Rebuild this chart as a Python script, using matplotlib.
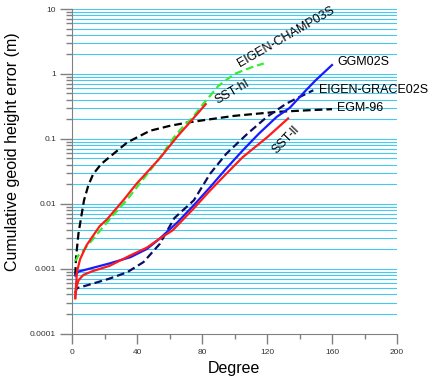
import matplotlib
matplotlib.use('Agg')
import matplotlib.pyplot as plt
import numpy as np

plt.rcParams['font.family'] = ['Liberation Sans', 'DejaVu Sans']

# EGM-96 (black dashed)
egm_deg = [2, 2.5, 4, 5.3, 7.4, 10, 13, 18, 23, 34, 48, 60, 71, 85, 100, 126, 145, 160]
egm_val = [0.0008, 0.0015, 0.0035, 0.0055, 0.0113, 0.019, 0.0285, 0.041, 0.052, 0.088,
           0.133, 0.158, 0.178, 0.2, 0.226, 0.26, 0.275, 0.286]

# EIGEN-CHAMP03S (green dashed)
champ_deg = [2, 4, 7, 15, 25, 33.6, 45, 55, 62, 68, 74, 81, 90, 100, 110, 118]
champ_val = [0.0013, 0.0016, 0.0019, 0.0033, 0.0065, 0.0113, 0.026, 0.055, 0.1, 0.15,
             0.21, 0.35, 0.65, 1.0, 1.25, 1.45]

# SST-hl (red)
ssthl_deg = [2, 3, 5, 9, 17, 21.4, 31.6, 39.8, 54, 65, 72.6, 82.3]
ssthl_val = [0.00035, 0.00088, 0.0014, 0.0023, 0.0045, 0.0057, 0.0113, 0.0204, 0.05,
             0.11, 0.18, 0.342]

# EIGEN-GRACE02S (navy dashed)
grace_deg = [2, 3, 9, 23, 34, 44, 54, 63, 75, 85, 95, 108, 120, 132, 140, 148.5]
grace_val = [0.00042, 0.0005, 0.00055, 0.0007, 0.00088, 0.00126, 0.0024, 0.006, 0.0113,
             0.029, 0.059, 0.12, 0.218, 0.35, 0.44, 0.56]

# GGM02S (blue)
ggm_deg = [2, 4, 11, 23, 36, 46, 54, 65, 75, 85, 95, 105, 115, 126, 134, 144, 150, 160]
ggm_val = [0.00078, 0.0009, 0.001, 0.0012, 0.0015, 0.002, 0.0029, 0.0052, 0.0095, 0.018,
           0.035, 0.066, 0.12, 0.218, 0.3, 0.56, 0.8, 1.37]

# SST-ll (red)
sstll_deg = [2, 2.5, 4, 7, 13, 23, 36, 46, 54, 62, 75, 85, 95, 105, 120, 133]
sstll_val = [0.00035, 0.0005, 0.00066, 0.0008, 0.00092, 0.0011, 0.0016, 0.0021, 0.0029,
             0.0039, 0.0085, 0.016, 0.029, 0.052, 0.105, 0.206]

ytick_vals = [0.0001, 0.001, 0.01, 0.1, 1, 10]
ytick_labels = ['0.0001', '0.001', '0.01', '0.1', '1', '10']

fig = plt.figure(figsize=(4.4, 3.79), dpi=100)
ax = fig.add_axes([72/440, 1 - 333.5/379, 325/440, 324.5/379])

dash = (0, (3.5, 1.8))
lw = 1.6
ax.plot(egm_deg, egm_val, color='black', lw=lw, ls=dash, zorder=3)
ax.plot(grace_deg, grace_val, color='#0c0c60', lw=lw, ls=dash, zorder=3)
ax.plot(champ_deg, champ_val, color='#33ee33', lw=lw, ls=dash, zorder=3)
ax.plot(ggm_deg, ggm_val, color='#1a1aff', lw=lw, zorder=4)
ax.plot(ssthl_deg, ssthl_val, color='#ff1a1a', lw=lw, zorder=5)
ax.plot(sstll_deg, sstll_val, color='#ff1a1a', lw=lw, zorder=5)

ax.set_yscale('log')
ax.set_xlim(0, 200)
ax.set_ylim(1e-4, 10)

# cyan grid at every major/minor decade line
for dec in [1e-4, 1e-3, 1e-2, 1e-1, 1]:
    for m in range(1, 10):
        v = dec * m
        if v > 1e-4:
            ax.axhline(v, color='#45c9f0', lw=0.8, zorder=1)
ax.axhline(10, color='#45c9f0', lw=0.8, zorder=1)

ax.set_yticks(ytick_vals)
ax.set_yticklabels(ytick_labels)
ax.set_xticks(np.arange(0, 201, 40))
ax.set_xticks(np.arange(20, 200, 40), minor=True)

for s in ['top', 'right']:
    ax.spines[s].set_visible(False)
for s in ['left', 'bottom']:
    ax.spines[s].set_color('#808080')
    ax.spines[s].set_zorder(6)

ax.tick_params(axis='y', which='major', length=8.5, width=1, color='#808080',
               labelsize=6, labelcolor='#333333', pad=3)
ax.tick_params(axis='y', which='minor', length=4.5, width=1, color='#808080')
ax.tick_params(axis='x', which='major', length=7.5, width=1, color='#808080',
               labelsize=6, labelcolor='#333333', pad=4)
ax.tick_params(axis='x', which='minor', length=3.8, width=1, color='#808080')

fig.text(234/440, 1 - 368/379, 'Degree', ha='center', va='center', fontsize=11.5)
fig.text(13/440, 1 - 152/379, 'Cumulative geoid height error (m)', ha='center',
         va='center', rotation=90, fontsize=11.5)

ann = [
    ('EIGEN-CHAMP03S', 286, 37, 30, 'center'),
    ('SST-hl', 232, 92, 30, 'center'),
    ('GGM02S', 337, 62, 0, 'left'),
    ('EIGEN-GRACE02S', 319, 90, 0, 'left'),
    ('EGM-96', 337, 108, 0, 'left'),
    ('SST-ll', 286, 140, 46, 'center'),
]
for txt, px, py, rot, ha in ann:
    fig.text(px/440, 1 - py/379, txt, fontsize=9, rotation=rot, ha=ha, va='center',
             rotation_mode='anchor')

fig.savefig('out.png', dpi=100)
